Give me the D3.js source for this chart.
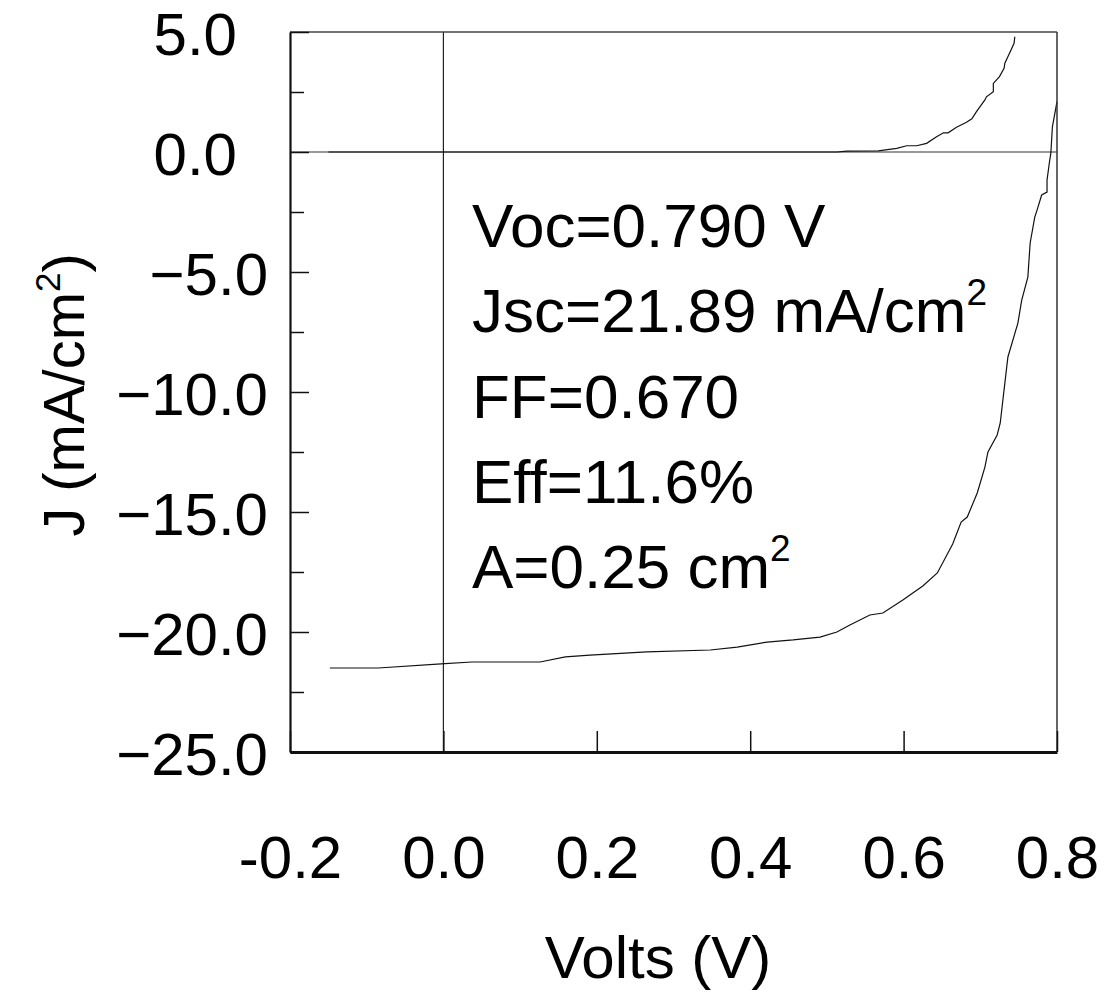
<!DOCTYPE html>
<html>
<head>
<meta charset="utf-8">
<script src="https://cdn.jsdelivr.net/npm/d3@7/dist/d3.min.js"></script>
<style>
  html, body { margin: 0; padding: 0; background: #fff; }
  svg { display: block; font-family: "Liberation Sans", Arial, sans-serif; }
</style>
</head>
<body>
<svg id="chart" width="1108" height="994"></svg>
<script>
// Illuminated J–V curve (voltage in V, current density in mA/cm²)
const lightV = [-0.148, -0.085, -0.003, 0.037, 0.126, 0.159, 0.191, 0.265, 0.348, 0.383,
  0.422, 0.456, 0.491, 0.513, 0.530, 0.556, 0.573, 0.599, 0.625, 0.644,
  0.664, 0.675, 0.683, 0.696, 0.706, 0.710, 0.722, 0.726, 0.732, 0.736,
  0.749, 0.754, 0.762, 0.765, 0.771, 0.774, 0.780, 0.787, 0.787, 0.790,
  0.792, 0.794, 0.800];
const lightJ = [-21.50, -21.50, -21.33, -21.25, -21.25, -21.04, -20.96, -20.83, -20.75, -20.63,
  -20.42, -20.33, -20.21, -20.00, -19.71, -19.29, -19.21, -18.67, -18.08, -17.54,
  -16.33, -15.42, -15.21, -14.21, -13.13, -12.50, -11.79, -11.29, -9.63, -8.54,
  -7.13, -6.17, -5.21, -3.79, -2.71, -2.42, -1.79, -1.67, -1.17, -0.46,
  -0.04, 1.05, 2.10];

// Dark J–V curve
const darkV = [-0.150, 0.000, 0.200, 0.400, 0.513, 0.526, 0.567, 0.591, 0.604, 0.617,
  0.630, 0.643, 0.652, 0.658, 0.669, 0.682, 0.689, 0.695, 0.706, 0.708,
  0.717, 0.717, 0.725, 0.731, 0.732, 0.739, 0.744, 0.745];
const darkJ = [0.00, 0.00, 0.00, 0.00, 0.00, 0.04, 0.05, 0.15, 0.26, 0.26,
  0.36, 0.64, 0.80, 0.80, 1.03, 1.24, 1.38, 1.68, 2.17, 2.30,
  2.51, 2.86, 3.14, 3.49, 3.70, 4.18, 4.53, 4.80];

// Axis ticks and labels
const xTicks = [-0.2, 0.0, 0.2, 0.4, 0.6, 0.8];
const xTickLabels = ["-0.2", "0.0", "0.2", "0.4", "0.6", "0.8"];
const yMajorTicks = [5, 0, -5, -10, -15, -20, -25];
const yTickLabels = ["5.0", "0.0", "\u22125.0", "\u221210.0", "\u221215.0", "\u221220.0", "\u221225.0"];
const yMinorTicks = [2.5, -2.5, -7.5, -12.5, -17.5, -22.5];

// Device parameters printed inside the plot
const params = [
  {text: "Voc=0.790 V", sup: ""},
  {text: "Jsc=21.89 mA/cm", sup: "2"},
  {text: "FF=0.670", sup: ""},
  {text: "Eff=11.6%", sup: ""},
  {text: "A=0.25 cm", sup: "2"}
];

const svg = d3.select("#chart");
const plotL = 290, plotR = 1057, plotT = 32, plotB = 752;

const x = d3.scaleLinear().domain([-0.2, 0.8]).range([plotL, plotR]);
const y = d3.scaleLinear().domain([-25, 5]).range([plotB, plotT]);

// Zero reference lines
svg.append("line")
  .attr("x1", plotL).attr("x2", plotR)
  .attr("y1", y(0)).attr("y2", y(0))
  .attr("stroke", "#333").attr("stroke-width", 1.2);
svg.append("line")
  .attr("x1", x(0)).attr("x2", x(0))
  .attr("y1", plotT).attr("y2", plotB)
  .attr("stroke", "#222").attr("stroke-width", 1.2);

// Curves
const line = d3.line().x(d => x(d[0])).y(d => y(d[1]));
svg.append("path")
  .datum(darkV.map((v, i) => [v, darkJ[i]]))
  .attr("d", line)
  .attr("fill", "none").attr("stroke", "#111").attr("stroke-width", 1.2);
svg.append("path")
  .datum(lightV.map((v, i) => [v, lightJ[i]]))
  .attr("d", line)
  .attr("fill", "none").attr("stroke", "#111").attr("stroke-width", 1.2);

// Frame
svg.append("line").attr("x1", plotL).attr("x2", plotR).attr("y1", plotT).attr("y2", plotT)
  .attr("stroke", "#444").attr("stroke-width", 1.5);
svg.append("line").attr("x1", plotR).attr("x2", plotR).attr("y1", plotT).attr("y2", plotB)
  .attr("stroke", "#333").attr("stroke-width", 1.5);

// Left axis: major ticks every 5, minor every 2.5, pointing inward
const yAxisMajor = d3.axisLeft(y).tickValues(yMajorTicks).tickSizeInner(-19).tickSizeOuter(0)
  .tickFormat((d, i) => yTickLabels[i]);
const gy = svg.append("g").attr("transform", `translate(${plotL},0)`).call(yAxisMajor);
gy.select(".domain").attr("stroke", "#111").attr("stroke-width", 2.2);
gy.selectAll(".tick line").attr("stroke", "#111").attr("stroke-width", 1.5);
// non-negative labels sit further left than the signed ones
gy.selectAll(".tick text")
  .attr("font-size", 60).attr("font-family", "Liberation Sans, Arial, sans-serif")
  .attr("fill", "#000").attr("dy", "0.38em").attr("x", d => d >= 0 ? -53 : -22);

const yAxisMinor = d3.axisLeft(y).tickValues(yMinorTicks).tickSizeInner(-14).tickSizeOuter(0)
  .tickFormat("");
const gyMinor = svg.append("g").attr("transform", `translate(${plotL},0)`).call(yAxisMinor);
gyMinor.select(".domain").remove();
gyMinor.selectAll(".tick line").attr("stroke", "#111").attr("stroke-width", 1.5);

// Bottom axis: ticks pointing inward
const xAxis = d3.axisBottom(x).tickValues(xTicks).tickSizeInner(-21).tickSizeOuter(0)
  .tickFormat((d, i) => xTickLabels[i]);
const gx = svg.append("g").attr("transform", `translate(0,${plotB})`).call(xAxis);
gx.select(".domain").attr("stroke", "#111").attr("stroke-width", 2.8);
gx.selectAll(".tick line").attr("stroke", "#111").attr("stroke-width", 1.5);
gx.selectAll(".tick text")
  .attr("font-size", 60).attr("font-family", "Liberation Sans, Arial, sans-serif")
  .attr("fill", "#000").attr("y", 83).attr("dy", "0.71em");

// Axis titles
svg.append("text")
  .attr("x", 658).attr("y", 978)
  .attr("text-anchor", "middle")
  .attr("font-size", 60).attr("fill", "#000")
  .text("Volts (V)");

const yTitle = svg.append("text")
  .attr("transform", "translate(84,395) rotate(-90)")
  .attr("text-anchor", "middle")
  .attr("font-size", 58).attr("fill", "#000");
yTitle.append("tspan").text("J (mA/cm");
yTitle.append("tspan").attr("font-size", 35).attr("dy", -24).text("2");
yTitle.append("tspan").attr("dy", 24).text(")");

// Parameter block
params.forEach((p, i) => {
  const t = svg.append("text")
    .attr("x", 472).attr("y", 247 + i * 85.25)
    .attr("font-size", 62).attr("fill", "#000");
  t.append("tspan").text(p.text);
  if (p.sup) t.append("tspan").attr("font-size", 37).attr("dy", -27).text(p.sup);
});
</script>
</body>
</html>
